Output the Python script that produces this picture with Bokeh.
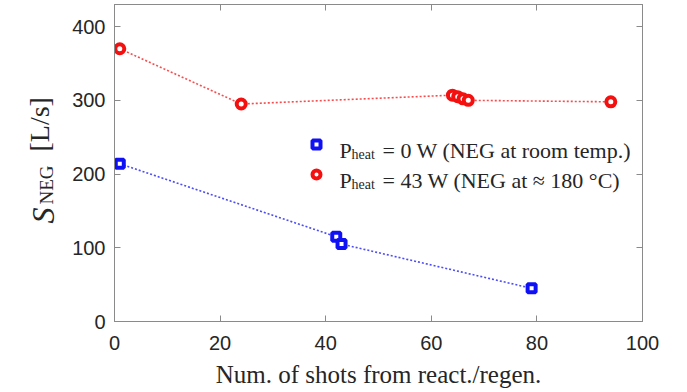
import math
from bokeh.plotting import figure
from bokeh.layouts import row
from bokeh.models import Range1d, LinearAxis, Label, Legend, LegendItem, FixedTicker
from bokeh.embed import file_html
from bokeh.resources import INLINE
from bokeh.core.properties import value

# ---- data ----
shots_0W = [1, 42, 43, 79]
S_0W = [214, 115, 105, 45]
shots_43W = [1, 24, 64, 65, 66, 67, 94]
S_43W = [370, 295, 307, 305, 302, 300, 298]
x_ticks = [0, 20, 40, 60, 80, 100]
y_ticks = [0, 100, 200, 300, 400]
x_label = "Num. of shots from react./regen."
y_label = ["S", "NEG", "[L/s]"]
legend_0W = ["P", "heat", "= 0 W (NEG at room temp.)"]
legend_43W = ["P", "heat", "= 43 W (NEG at \u2248 180 \u00b0C)"]

BLUE = "#1010f5"
RED = "#f51010"
AX = "#8a8a8a"
TXT = "#262626"
SERIF = "Liberation Serif"
LEFT_W = 60

p = figure(width=687 - LEFT_W, height=392, output_backend="svg", toolbar_location=None,
           x_range=Range1d(0, 100), y_range=Range1d(0, 430),
           min_border_left=114 - LEFT_W, min_border_right=45, min_border_top=4,
           min_border_bottom=71)
p.grid.visible = False
p.outline_line_color = AX
p.background_fill_color = "white"
p.border_fill_color = "white"

for ax, ticks in ((p.xaxis[0], x_ticks), (p.yaxis[0], y_ticks)):
    ax.ticker = FixedTicker(ticks=ticks)
    ax.major_tick_in = 6
    ax.major_tick_out = 0
    ax.minor_tick_line_color = None
    ax.axis_line_color = AX
    ax.major_tick_line_color = AX
    ax.major_label_text_font = "Liberation Sans"
    ax.major_label_text_font_size = "20px"
    ax.major_label_text_color = TXT
p.xaxis.major_label_standoff = 14
p.yaxis.major_label_standoff = 9
p.xaxis.axis_label = x_label
p.xaxis.axis_label_text_font = SERIF
p.xaxis.axis_label_text_font_size = "25px"
p.xaxis.axis_label_text_font_style = "normal"
p.xaxis.axis_label_text_color = TXT
p.xaxis.axis_label_standoff = 8

right = LinearAxis(ticker=FixedTicker(ticks=y_ticks), major_tick_in=6, major_tick_out=0,
                   minor_tick_line_color=None, axis_line_color=AX, major_tick_line_color=AX,
                   major_label_overrides={t: "" for t in y_ticks}, major_label_standoff=0)
top = LinearAxis(ticker=FixedTicker(ticks=x_ticks), major_tick_in=6, major_tick_out=0,
                 minor_tick_line_color=None, axis_line_color=AX, major_tick_line_color=AX,
                 major_label_overrides={t: "" for t in x_ticks}, major_label_standoff=0)
p.add_layout(right, "right")
p.add_layout(top, "above")

# ---- series ----
p.line(shots_0W, S_0W, line_color=BLUE, line_width=1.6, line_dash="2 2", line_alpha=0.75)
sq = p.scatter(shots_0W, S_0W, marker="square", size=8, fill_color="white",
               line_color=BLUE, line_width=4)
p.line(shots_43W, S_43W, line_color=RED, line_width=1.6, line_dash="2 2", line_alpha=0.75)
ci = p.scatter(shots_43W, S_43W, marker="circle", size=9, fill_color="white",
               line_color=RED, line_width=4)

legend = Legend(items=[LegendItem(label=value(" "), renderers=[sq]),
                       LegendItem(label=value(" "), renderers=[ci])],
                location=(192, 134), glyph_width=20, glyph_height=26, spacing=4,
                padding=0, margin=0, label_standoff=0, label_width=0,
                border_line_alpha=0, background_fill_alpha=0)
p.add_layout(legend, "center")


def lbl(fig, text, x, y, size, **kw):
    fig.add_layout(Label(text=text, x=x, y=y, x_units="screen", y_units="screen",
                         text_font=SERIF, text_font_size=size, text_color=TXT,
                         text_baseline="alphabetic", **kw))


# ---- legend texts (frame-relative screen units) ----
for items, fy in ((legend_0W, 171), (legend_43W, 141)):
    lbl(p, items[0], 225, fy, "22px")
    lbl(p, items[1], 237, fy - 4, "14px")
    lbl(p, items[2], 268, fy, "22px")

# ---- y-axis title in a narrow text-only panel (frame aligned with main frame) ----
t = figure(width=LEFT_W, height=392, output_backend="svg", toolbar_location=None,
           x_axis_location=None, y_axis_location=None, min_border=0,
           x_range=Range1d(0, 1), y_range=Range1d(0, 1))
t.grid.visible = False
t.outline_line_color = None
lbl(t, y_label[0], 42, 98, "32px", angle=math.pi / 2, text_font_style="italic")
lbl(t, y_label[1], 46, 117, "19px", angle=math.pi / 2)
lbl(t, y_label[2], 39, 170, "28px", angle=math.pi / 2)

layout = row(t, p)
open("out.html", "w").write(file_html(layout, INLINE))
